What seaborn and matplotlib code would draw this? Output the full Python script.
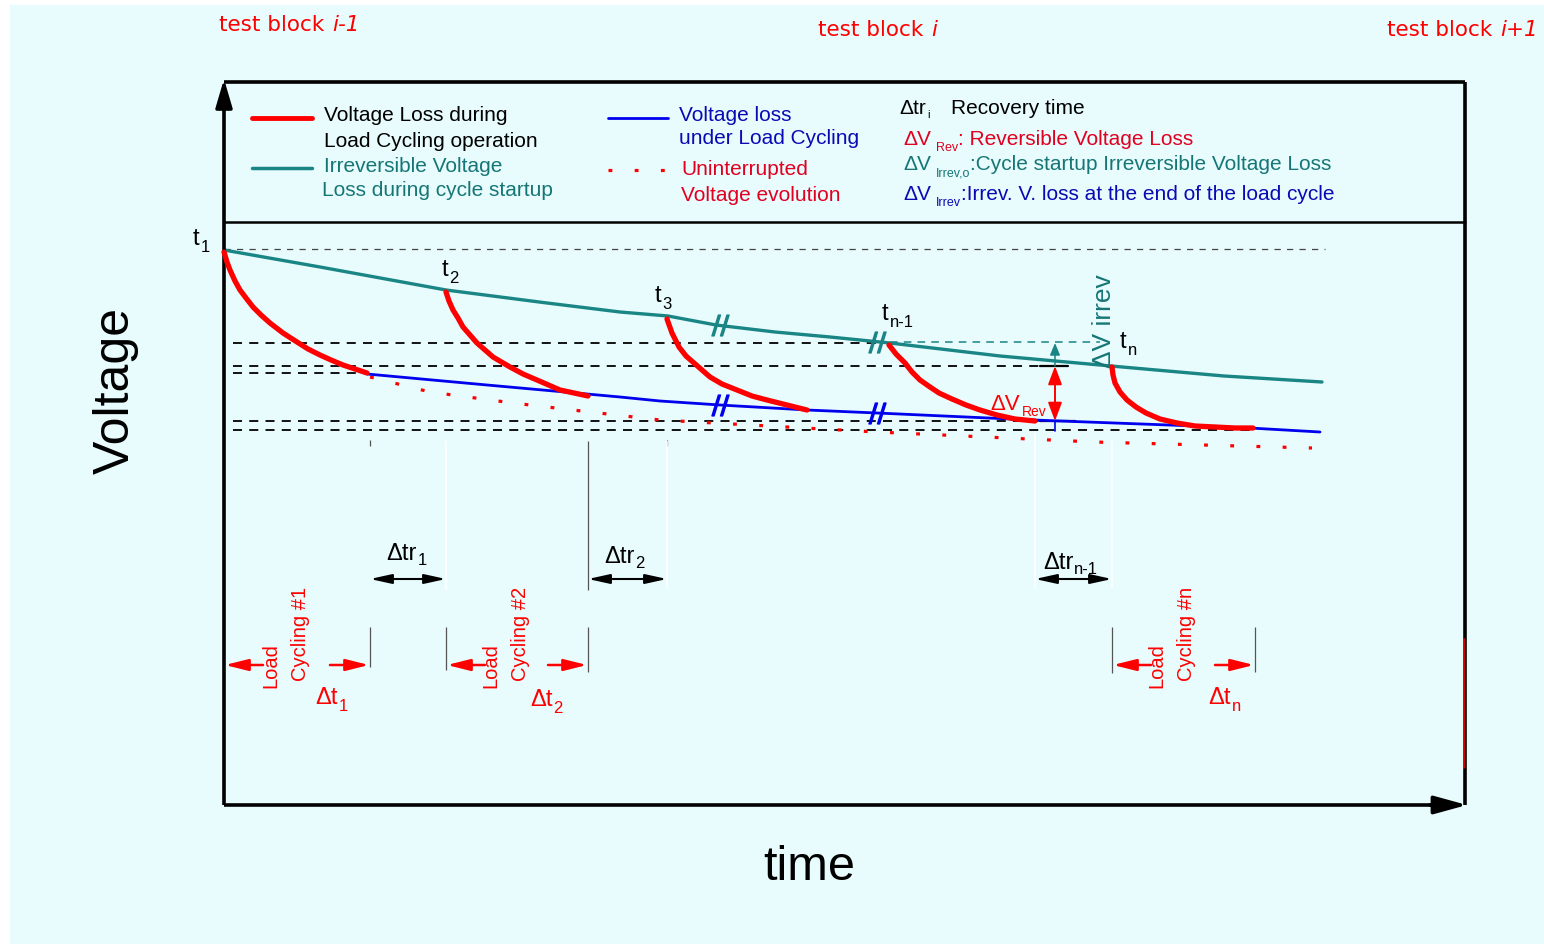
import matplotlib
matplotlib.use("Agg")
import matplotlib.pyplot as plt
import seaborn as sns
from matplotlib.patches import Rectangle

sns.set_theme(style="white")
plt.rcParams["font.family"] = ["Liberation Sans", "DejaVu Sans"]
plt.rcParams["mathtext.fontset"] = "custom"
plt.rcParams["mathtext.rm"] = "DejaVu Sans"
plt.rcParams["mathtext.it"] = "DejaVu Sans:italic"

# ---------------- data (time -> x, voltage drop -> y, schematic units) ----------------
irrev_t = [224, 320, 446, 547, 620, 668, 716, 775, 830, 890, 1000, 1111, 1224, 1322]
irrev_v = [250, 267, 290, 303, 312, 316, 325, 332, 337, 343, 356, 366, 376, 382]

loss_t = [367, 487, 587, 620, 660, 720, 807, 877, 1033, 1250, 1320]
loss_v = [374, 385, 394, 397, 401, 405, 410, 413, 420, 428, 432]

unint_t = [370, 430, 513, 590, 660, 877, 1094, 1312]
unint_v = [377, 392, 403, 412, 420, 432, 442, 448]

cycle1_t = [224, 227, 230, 235, 240, 246, 253, 261, 270, 283, 297, 308, 320, 331, 343, 355, 367]
cycle1_v = [252, 262, 270, 281, 290, 298, 307, 315, 323, 333, 342, 349, 355, 360, 365, 369, 373]
cycle2_t = [446, 449, 453, 458, 463, 470, 477, 485, 493, 510, 523, 537, 560, 588]
cycle2_v = [292, 301, 310, 318, 327, 335, 343, 350, 357, 367, 374, 380, 390, 396]
cycle3_t = [667, 672, 679, 686, 694, 702, 710, 722, 737, 752, 767, 787, 807]
cycle3_v = [319, 333, 347, 356, 363, 370, 377, 384, 390, 396, 400, 405, 410]
cycle4_t = [889, 896, 905, 912, 920, 930, 939, 952, 966, 980, 997, 1015, 1035]
cycle4_v = [345, 354, 363, 372, 380, 387, 393, 399, 405, 410, 415, 419, 421]
cycle5_t = [1112, 1113, 1115, 1120, 1127, 1136, 1146, 1160, 1177, 1195, 1215, 1235, 1253]
cycle5_v = [367, 375, 383, 392, 400, 407, 413, 419, 423, 426, 427, 428, 428]

cycle_curves = [(cycle1_t, cycle1_v), (cycle2_t, cycle2_v), (cycle3_t, cycle3_v),
                (cycle4_t, cycle4_v), (cycle5_t, cycle5_v)]

t_subs = ["1", "2", "3", "n-1", "n"]
t_label_x = [193, 442, 655, 882, 1120]
t_label_y = [245, 276, 302, 320, 348]

guide_y = [343, 366, 373, 421, 430]
guide_x0 = [233, 233, 233, 233, 233]
guide_x1 = [885, 1068, 368, 1075, 1250]

recovery_subs = ["1", "2", "n-1"]
recovery_start = [370, 588, 1035]
recovery_end = [446, 667, 1112]
recovery_lab_x = [386, 604, 1043]
recovery_lab_y = [560, 563, 569]

cycle_names = ["Cycling #1", "Cycling #2", "Cycling #n"]
cycle_start = [224, 446, 1112]
cycle_end = [370, 588, 1255]
dt_subs = ["1", "2", "n"]
dt_x = [315, 530, 1208]
dt_y = [704, 706, 704]

break_t_irrev = [720, 877]
break_v_irrev = [325, 342]
break_t_loss = [720, 877]
break_v_loss = [405, 413]

RED = "#ff0000"
TEAL = "#1a8585"
TEAL_TXT = "#167676"
BLUE = "#0000ee"
BLUE_TXT = "#0a0ab4"
LEG_RED = "#e00020"
BG = "#e8fbfd"

fig = plt.figure(figsize=(15.44, 9.44), dpi=100)
fig.patch.set_facecolor("white")
ax = fig.add_axes([0, 0, 1, 1])
ax.set_xlim(0, 1544)
ax.set_ylim(944, 0)
ax.set_facecolor("white")
ax.add_patch(Rectangle((10, 5), 1534, 940, color=BG, zorder=0))
renderer = fig.canvas.get_renderer()


def seg_text(x, y, segs, color, fs, sub_fs, sub_dy, sub_gap=1, **kw):
    """Write text pieces one after another; ('s', txt) pieces are subscripts."""
    cur = x
    for kind, txt in segs:
        if kind == "s":
            t = ax.text(cur + sub_gap, y + sub_dy, txt, fontsize=sub_fs, color=color,
                        ha="left", va="baseline", **kw)
            cur = cur + sub_gap
        else:
            t = ax.text(cur, y, txt, fontsize=fs, color=color, ha="left",
                        va="baseline", **kw)
        bb = t.get_window_extent(renderer)
        cur = cur + bb.width
    return cur


# ---------------- frame ----------------
kw_frame = dict(color="black", lw=2.6, solid_capstyle="butt", zorder=5)
ax.plot([224, 224], [100, 805], **kw_frame)
ax.plot([224, 1465], [82, 82], **kw_frame)
ax.plot([1465, 1465], [82, 805], **kw_frame)
ax.plot([224, 1440], [805, 805], **kw_frame)
ax.plot([224, 1465], [222, 222], color="black", lw=1.8, zorder=5)
ax.plot([1464, 1464], [639, 768], color=RED, lw=1.2, zorder=6)
ax.annotate("", xy=(224, 79), xytext=(224, 110),
            arrowprops=dict(arrowstyle="-|>,head_length=1.7,head_width=0.5",
                            color="black", lw=2.6, mutation_scale=10,
                            shrinkA=0, shrinkB=0), zorder=6)
ax.annotate("", xy=(1467, 805), xytext=(1430, 805),
            arrowprops=dict(arrowstyle="-|>,head_length=2.0,head_width=0.55",
                            color="black", lw=2.6, mutation_scale=10,
                            shrinkA=0, shrinkB=0), zorder=6)

# ---------------- guides ----------------
ax.plot([224, 1325], [249, 249], color="#444444", lw=0.9, ls=(0, (5, 5)), zorder=2)
ax.hlines(guide_y, guide_x0, guide_x1, colors="black", lw=1.3,
          linestyles=[(0, (5, 4))], zorder=2)
ax.plot([890, 1100], [342, 342], color=TEAL, lw=1.1, ls=(0, (5, 4)), zorder=2)
ax.plot([1040, 1068], [366, 366], color="black", lw=1.6, zorder=2)
ax.plot([1040, 1075], [421, 421], color="black", lw=1.6, zorder=2)

gray_vx = [370, 446, 588, 588, 1112, 1255, 370, 667]
gray_vy0 = [627, 627, 441, 627, 627, 627, 440, 440]
gray_vy1 = [667, 670, 590, 672, 673, 672, 446, 446]
ax.vlines(gray_vx, gray_vy0, gray_vy1, colors="#555555", lw=0.9, zorder=2)
ax.vlines([446, 667, 1035, 1112], [441, 441, 432, 441], [590, 588, 588, 588],
          colors="white", lw=1.2, zorder=2)

# ---------------- curves (seaborn) ----------------
sns.lineplot(x=irrev_t, y=irrev_v, ax=ax, color=TEAL, lw=2.4, sort=False,
             estimator=None, zorder=4)
sns.lineplot(x=loss_t, y=loss_v, ax=ax, color=BLUE, lw=2.0, sort=False,
             estimator=None, zorder=4)
sns.lineplot(x=unint_t, y=unint_v, ax=ax, color=RED, lw=2.3, sort=False,
             estimator=None, ls=(0, (1.2, 7)), zorder=3)
for ct, cv in cycle_curves:
    sns.lineplot(x=ct, y=cv, ax=ax, color=RED, lw=3.8, sort=False,
                 estimator=None, zorder=5)

ax.plot(break_t_irrev, break_v_irrev, ls="none", marker="$//$", ms=15,
        color=TEAL, zorder=6)
ax.plot(break_t_loss, break_v_loss, ls="none", marker="$//$", ms=15,
        color=BLUE, zorder=6)

# delta V arrows
ax.annotate("", xy=(1055, 366), xytext=(1055, 421),
            arrowprops=dict(arrowstyle="<|-|>,head_length=0.8,head_width=0.3",
                            color=RED, lw=1.4, mutation_scale=14,
                            shrinkA=0, shrinkB=0), zorder=6)
ax.annotate("", xy=(1055, 343), xytext=(1055, 366),
            arrowprops=dict(arrowstyle="-|>,head_length=0.6,head_width=0.25",
                            color=TEAL, lw=1.1, mutation_scale=12,
                            shrinkA=0, shrinkB=0), zorder=6)
ax.plot([1055, 1055], [421, 431], color=BLUE, lw=1.2, zorder=6)

# ---------------- labels on curves ----------------
for sub, lx, ly in zip(t_subs, t_label_x, t_label_y):
    seg_text(lx, ly, [("n", "t"), ("s", sub)], "black", 17, 12, 7, zorder=7)
seg_text(990, 410, [("n", "ΔV"), ("s", "Rev")], RED, 16, 10, 6, sub_gap=2, zorder=7)
ax.text(1104, 368, "ΔV irrev", fontsize=19, color=TEAL_TXT, rotation=90,
        ha="center", va="bottom", zorder=7)

# recovery-time arrows
for sub, x0, x1, lx, ly in zip(recovery_subs, recovery_start, recovery_end,
                               recovery_lab_x, recovery_lab_y):
    ax.annotate("", xy=(x0, 579), xytext=(x1, 579),
                arrowprops=dict(arrowstyle="<|-|>,head_length=1.0,head_width=0.22",
                                color="black", lw=1.5, mutation_scale=13,
                                shrinkA=0, shrinkB=0), zorder=6)
    seg_text(lx, ly, [("n", "Δtr"), ("s", sub)], "black", 17, 12, 5, zorder=7)

# load-cycling duration arrows
for name, x0, x1, sub, lx, ly in zip(cycle_names, cycle_start, cycle_end,
                                     dt_subs, dt_x, dt_y):
    ax.annotate("", xy=(x0 + 1, 665), xytext=(x0 + 39, 665),
                arrowprops=dict(arrowstyle="-|>,head_length=1.0,head_width=0.25",
                                color=RED, lw=1.8, mutation_scale=14,
                                shrinkA=0, shrinkB=0), zorder=6)
    ax.annotate("", xy=(x1 - 1, 665), xytext=(x1 - 40, 665),
                arrowprops=dict(arrowstyle="-|>,head_length=1.0,head_width=0.25",
                                color=RED, lw=1.8, mutation_scale=14,
                                shrinkA=0, shrinkB=0), zorder=6)
    xm = x0 + 47 if x0 == 224 else x0 + 45
    ax.text(xm, 688, "Load", fontsize=14.5, color=RED, rotation=90,
            ha="center", va="bottom", zorder=7)
    ax.text(xm + 29, 681, name, fontsize=14.5, color=RED, rotation=90,
            ha="center", va="bottom", zorder=7)
    seg_text(lx, ly, [("n", "Δt"), ("s", sub)], RED, 17, 12, 7, zorder=7)

# ---------------- legend block ----------------
ax.plot([252, 312], [118, 118], color=RED, lw=3.5)
ax.plot([252, 312], [168, 168], color=TEAL, lw=2.5)
ax.plot([608, 668], [118, 118], color=BLUE, lw=2.0)
ax.plot([608, 668], [170, 170], color=RED, lw=2.3, ls=(0, (1.2, 7)))

leg_fs = 15
ax.text(324, 121, "Voltage Loss during", fontsize=leg_fs, color="black", va="baseline")
ax.text(324, 147, "Load Cycling operation", fontsize=leg_fs, color="black", va="baseline")
ax.text(324, 172, "Irreversible Voltage", fontsize=leg_fs, color=TEAL_TXT, va="baseline")
ax.text(322, 196, "Loss during cycle startup", fontsize=leg_fs, color=TEAL_TXT, va="baseline")
ax.text(679, 121, "Voltage loss", fontsize=leg_fs, color=BLUE_TXT, va="baseline")
ax.text(679, 144, "under Load Cycling", fontsize=leg_fs, color=BLUE_TXT, va="baseline")
ax.text(681, 175, "Uninterrupted", fontsize=leg_fs, color=LEG_RED, va="baseline")
ax.text(681, 201, "Voltage evolution", fontsize=leg_fs, color=LEG_RED, va="baseline")
seg_text(899, 114, [("n", "Δtr"), ("s", "i")], "black", leg_fs, 8, 4)
ax.text(951, 114, "Recovery time", fontsize=leg_fs, color="black", va="baseline")
seg_text(903, 145, [("n", "ΔV"), ("s", "Rev"), ("n", ": Reversible Voltage Loss")],
         LEG_RED, leg_fs, 9, 6, sub_gap=5)
seg_text(903, 170, [("n", "ΔV"), ("s", "Irrev,o"),
                    ("n", ":Cycle startup Irreversible Voltage Loss")],
         TEAL_TXT, leg_fs, 9, 6, sub_gap=5)
seg_text(903, 200, [("n", "ΔV"), ("s", "Irrev"),
                    ("n", ":Irrev. V. loss at the end of the load cycle")],
         BLUE_TXT, leg_fs, 9, 6, sub_gap=5)

# ---------------- test block headers ----------------
hdr_fs = 15.5
seg_text(219, 31, [("n", "test block "), ("i", "")], RED, hdr_fs, hdr_fs, 0,
         family="DejaVu Sans")
ax.texts[-1].remove()
hdr_x_end = 219 + ax.texts[-1].get_window_extent(renderer).width
ax.text(hdr_x_end + 1, 31, "i-1", fontsize=hdr_fs, color=RED, style="italic",
        family="DejaVu Sans", va="baseline")
t_mid = ax.text(818, 36, "test block ", fontsize=hdr_fs, color=RED,
                family="DejaVu Sans", va="baseline")
ax.text(818 + t_mid.get_window_extent(renderer).width + 1, 36, "i", fontsize=hdr_fs,
        color=RED, style="italic", family="DejaVu Sans", va="baseline")
t_right = ax.text(1387, 36, "test block ", fontsize=hdr_fs, color=RED,
                  family="DejaVu Sans", va="baseline")
ax.text(1387 + t_right.get_window_extent(renderer).width + 1, 36, "i+1",
        fontsize=hdr_fs, color=RED, style="italic", family="DejaVu Sans",
        va="baseline")

# ---------------- axis titles ----------------
ax.text(116, 390, "Voltage", fontsize=36, rotation=90, ha="center", va="center",
        color="black")
ax.text(809, 868, "time", fontsize=35, ha="center", va="center", color="black")

ax.set_xlim(0, 1544)
ax.set_ylim(944, 0)
ax.axis("off")
fig.savefig("out.png", dpi=100, facecolor=fig.get_facecolor())
